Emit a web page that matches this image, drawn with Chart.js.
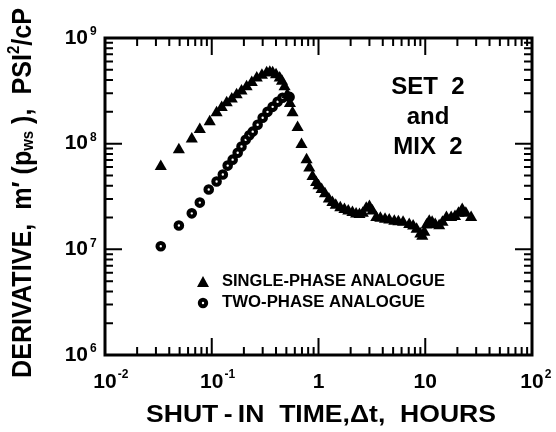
<!DOCTYPE html>
<html>
<head>
<meta charset="utf-8">
<script src="https://cdn.jsdelivr.net/npm/chart.js@4/dist/chart.umd.min.js"></script>
<style>
  body { margin: 0; background: #fff; }
  #wrap { width: 556px; height: 432px; }
</style>
</head>
<body>
<div id="wrap"><canvas id="c" width="556" height="432"></canvas></div>
<script>
// values (hours, psi^2/cP)
const singleX = [0.0333, 0.0492, 0.065, 0.0773, 0.0957, 0.111, 0.124, 0.138, 0.154, 0.171, 0.19, 0.212, 0.237, 0.264, 0.295, 0.327, 0.35, 0.372, 0.40, 0.433, 0.455, 0.481, 0.51, 0.54, 0.571, 0.637, 0.693, 0.773, 0.82, 0.879, 0.95, 1.0, 1.07, 1.15, 1.25, 1.35, 1.45, 1.6, 1.75, 1.9, 2.08, 2.25, 2.42, 2.6, 2.8, 3.0, 3.2, 3.48, 3.8, 4.2, 4.6, 5.13, 5.6, 6.2, 7.08, 7.7, 8.3, 9.0, 9.38, 9.8, 10.3, 10.9, 11.6, 12.4, 13.5, 14.5, 15.8, 17.5, 19.0, 20.5, 22.2, 24.0, 26.9];
const singleY = [6.07e7, 8.78e7, 1.11e8, 1.36e8, 1.61e8, 1.96e8, 2.2e8, 2.44e8, 2.65e8, 2.9e8, 3.15e8, 3.45e8, 3.8e8, 4.19e8, 4.45e8, 4.68e8, 4.75e8, 4.68e8, 4.5e8, 4.19e8, 3.9e8, 3.45e8, 2.9e8, 2.4e8, 1.96e8, 1.42e8, 9.8e7, 7.06e7, 5.9e7, 4.89e7, 4.3e7, 4.0e7, 3.68e7, 3.35e7, 3.0e7, 2.77e7, 2.62e7, 2.48e7, 2.38e7, 2.3e7, 2.23e7, 2.16e7, 2.14e7, 2.2e7, 2.45e7, 2.55e7, 2.3e7, 2.0e7, 1.97e7, 1.93e7, 1.9e7, 1.84e7, 1.82e7, 1.8e7, 1.72e7, 1.66e7, 1.55e7, 1.4e7, 1.33e7, 1.45e7, 1.7e7, 1.84e7, 1.8e7, 1.72e7, 1.67e7, 1.8e7, 2.0e7, 2.0e7, 2.05e7, 2.2e7, 2.38e7, 2.2e7, 2.0e7];
const twoX = [0.0333, 0.0492, 0.065, 0.0773, 0.0937, 0.111, 0.127, 0.141, 0.157, 0.175, 0.19, 0.208, 0.225, 0.242, 0.269, 0.30, 0.333, 0.372, 0.414, 0.46, 0.536];
const twoY = [1.07e7, 1.68e7, 2.19e7, 2.77e7, 3.68e7, 4.38e7, 5.1e7, 6.2e7, 7.06e7, 8.2e7, 9.4e7, 1.09e8, 1.2e8, 1.3e8, 1.51e8, 1.76e8, 2.0e8, 2.23e8, 2.49e8, 2.72e8, 2.77e8];

const xTickVals = [0.01, 0.1, 1, 10, 100];
const xTickBase = ["10", "10", "1", "10", "10"];
const xTickExp = ["-2", "-1", "", "", "2"];
const yTickVals = [1e6, 1e7, 1e8, 1e9];
const yTickBase = ["10", "10", "10", "10"];
const yTickExp = ["6", "7", "8", "9"];

const seriesNames = ["SINGLE-PHASE ANALOGUE", "TWO-PHASE ANALOGUE"];
const noteLines = ["SET  2", "and", "MIX  2"];

const FONT = '"Liberation Sans", Arial, sans-serif';

function toPts(xs, ys) {
  return xs.map((x, i) => ({ x: x, y: ys[i] }));
}

// draw text squeezed/stretched to a given width
function drawFit(ctx, text, x, y, font, w) {
  ctx.save();
  ctx.font = font;
  const m = ctx.measureText(text).width;
  ctx.translate(x, y);
  ctx.scale(w / m, 1);
  ctx.textAlign = "left";
  ctx.fillText(text, 0, 0);
  ctx.restore();
}

function drawRich(ctx, segs, x, y, w) {
  let total = 0;
  segs.forEach(s => { ctx.font = s.font; s.w = ctx.measureText(s.t).width; total += s.w; });
  ctx.save();
  ctx.translate(x, y);
  ctx.scale(w / total, 1);
  ctx.textAlign = "left";
  let cx = 0;
  segs.forEach(s => {
    ctx.font = s.font;
    ctx.fillText(s.t, cx, s.dy || 0);
    cx += s.w;
  });
  ctx.restore();
}

const framePlugin = {
  id: "frame",
  afterDraw(chart) {
    const ctx = chart.ctx;
    const a = chart.chartArea;
    const xs = chart.scales.x, ys = chart.scales.y;
    ctx.save();
    ctx.strokeStyle = "#000";
    ctx.fillStyle = "#000";

    // frame
    ctx.lineWidth = 3;
    ctx.strokeRect(a.left, a.top, a.right - a.left, a.bottom - a.top);

    // inward ticks on all four sides
    ctx.lineWidth = 2;
    ctx.beginPath();
    for (let d = -2; d < 2; d++) {
      for (let k = 1; k <= 9; k++) {
        if (k === 1 && d === -2) continue;
        const px = xs.getPixelForValue(k * Math.pow(10, d));
        const len = k === 1 ? 17 : 8;
        ctx.moveTo(px, a.bottom); ctx.lineTo(px, a.bottom - len);
        ctx.moveTo(px, a.top); ctx.lineTo(px, a.top + len);
      }
    }
    for (let d = 6; d < 9; d++) {
      for (let k = 1; k <= 9; k++) {
        if (k === 1 && d === 6) continue;
        const py = ys.getPixelForValue(k * Math.pow(10, d));
        const len = k === 1 ? 17 : 8;
        ctx.moveTo(a.left, py); ctx.lineTo(a.left + len, py);
        ctx.moveTo(a.right, py); ctx.lineTo(a.right - len, py);
      }
    }
    ctx.stroke();

    // x tick labels
    ctx.textBaseline = "middle";
    xTickVals.forEach((v, i) => {
      const px = xs.getPixelForValue(v);
      ctx.font = "bold 21px " + FONT;
      ctx.textAlign = "center";
      ctx.fillText(xTickBase[i], px, 382);
      if (xTickExp[i]) {
        const bw = ctx.measureText(xTickBase[i]).width;
        ctx.font = "bold 12px " + FONT;
        ctx.textAlign = "left";
        ctx.fillText(xTickExp[i], px + bw / 2 + 1, 375);
      }
    });

    // y tick labels
    yTickVals.forEach((v, i) => {
      const py = ys.getPixelForValue(v);
      ctx.font = "bold 21px " + FONT;
      ctx.textAlign = "right";
      ctx.fillText(yTickBase[i], 88, py);
      ctx.font = "bold 12px " + FONT;
      ctx.textAlign = "left";
      ctx.fillText(yTickExp[i], 90, py - 6);
    });

    // axis titles
    drawFit(ctx, "SHUT\u2009-\u2009IN  TIME,\u0394t,  HOURS", 146, 416, "bold 23px " + FONT, 350);

    ctx.save();
    ctx.translate(24, 378);
    ctx.rotate(-Math.PI / 2);
    const big = "bold 27px " + FONT, small = "bold 16px " + FONT;
    drawRich(ctx, [
      { t: "DERIVATIVE,  m\u2032 (p", font: big },
      { t: "ws", font: small, dy: 5 },
      { t: " ),  PSI", font: big },
      { t: "2", font: small, dy: -9 },
      { t: "/cP", font: big }
    ], 0, 0, 370);
    ctx.restore();

    // legend
    const lx = 203, ly = [282, 303];
    ctx.beginPath();
    ctx.moveTo(lx, ly[0] - 6); ctx.lineTo(lx + 6, ly[0] + 5); ctx.lineTo(lx - 6, ly[0] + 5);
    ctx.closePath(); ctx.fill();
    ctx.beginPath(); ctx.lineWidth = 4;
    ctx.arc(lx, ly[1], 3.2, 0, Math.PI * 2); ctx.stroke();
    drawFit(ctx, seriesNames[0], 222, ly[0], "bold 16px " + FONT, 223);
    drawFit(ctx, seriesNames[1], 222, ly[1], "bold 16px " + FONT, 203);

    // annotation
    ctx.font = "bold 24px " + FONT;
    ctx.textAlign = "center";
    noteLines.forEach((t, i) => ctx.fillText(t, 428, 87 + i * 30));

    ctx.restore();
  }
};

new Chart(document.getElementById("c"), {
  type: "scatter",
  data: {
    datasets: [
      {
        label: seriesNames[0],
        data: toPts(singleX, singleY),
        pointStyle: "triangle",
        pointRadius: 7,
        backgroundColor: "#000",
        borderColor: "#000",
        borderWidth: 0
      },
      {
        label: seriesNames[1],
        data: toPts(twoX, twoY),
        pointStyle: "circle",
        pointRadius: 3.25,
        backgroundColor: "#fff",
        borderColor: "#000",
        borderWidth: 4.1
      }
    ]
  },
  options: {
    responsive: false,
    animation: false,
    layout: { padding: { left: 105, right: 24, top: 38, bottom: 77 } },
    plugins: { legend: { display: false }, tooltip: { enabled: false } },
    scales: {
      x: { type: "logarithmic", min: 0.01, max: 100, display: false },
      y: { type: "logarithmic", min: 1e6, max: 1e9, display: false }
    }
  },
  plugins: [framePlugin]
});
</script>
</body>
</html>
